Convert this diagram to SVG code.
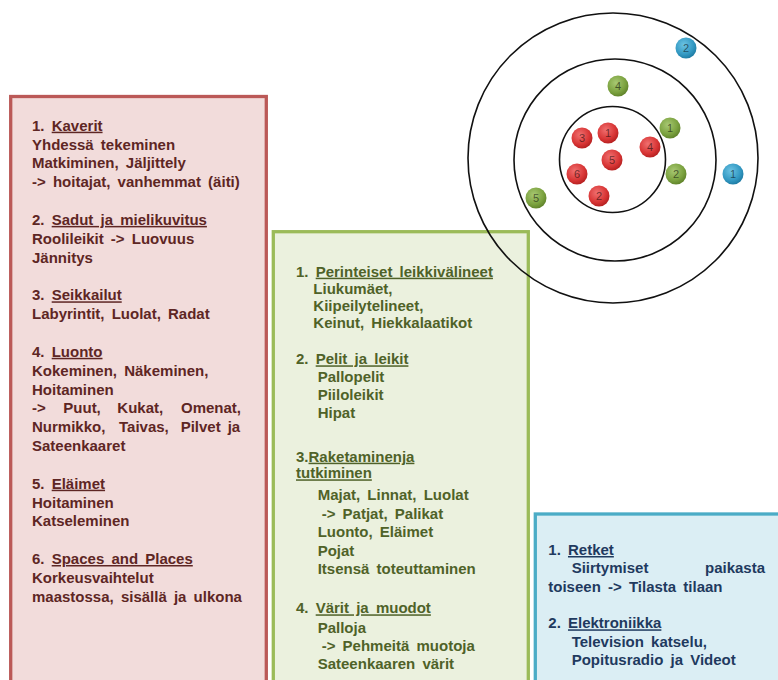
<svg xmlns="http://www.w3.org/2000/svg" width="778" height="680" viewBox="0 0 778 680">
<defs>
<radialGradient id="gRed" cx="0.4" cy="0.35" r="0.65">
<stop offset="0" stop-color="#f07070"/><stop offset="0.7" stop-color="#d83535"/><stop offset="1" stop-color="#b82222"/>
</radialGradient>
<radialGradient id="gGreen" cx="0.4" cy="0.35" r="0.65">
<stop offset="0" stop-color="#a8c873"/><stop offset="0.7" stop-color="#7ba23f"/><stop offset="1" stop-color="#62852c"/>
</radialGradient>
<radialGradient id="gBlue" cx="0.4" cy="0.35" r="0.65">
<stop offset="0" stop-color="#6cc3e3"/><stop offset="0.7" stop-color="#3399c3"/><stop offset="1" stop-color="#207ea6"/>
</radialGradient>
</defs>
<style>
text{font-family:"Liberation Sans",Arial,sans-serif;font-weight:bold;font-size:15px;word-spacing:3px}
.r{fill:#5e2624}
.g{fill:#4f6228}
.b{fill:#1f3a5f}
.u{text-decoration:underline}
.ring{fill:none;stroke:#111;stroke-width:1.6}
.n{font-size:11px;font-weight:normal;text-anchor:middle;fill:#000;fill-opacity:0.55;word-spacing:0}
</style>
<rect width="778" height="680" fill="#ffffff"/>

<g id="box-red">
<rect x="10.7" y="96.5" width="255.6" height="620" fill="#f2dcdb" stroke="#bb5957" stroke-width="3.3"/>
<text class="r" x="32" y="130.7">1. <tspan class="u">Kaverit</tspan></text>
<text class="r" x="32" y="149.5">Yhdessä tekeminen</text>
<text class="r" x="32" y="168.4">Matkiminen, Jäljittely</text>
<text class="r" x="32" y="187.2">-&gt; hoitajat, vanhemmat (äiti)</text>
<text class="r" x="32" y="224.9">2. <tspan class="u">Sadut ja mielikuvitus</tspan></text>
<text class="r" x="32" y="243.7">Roolileikit -&gt; Luovuus</text>
<text class="r" x="32" y="262.6">Jännitys</text>
<text class="r" x="32" y="300.3">3. <tspan class="u">Seikkailut</tspan></text>
<text class="r" x="32" y="319.1">Labyrintit, Luolat, Radat</text>
<text class="r" x="32" y="356.8">4. <tspan class="u">Luonto</tspan></text>
<text class="r" x="32" y="375.6">Kokeminen, Näkeminen,</text>
<text class="r" x="32" y="394.5">Hoitaminen</text>
<text class="r" y="413.3"><tspan x="32">-&gt;</tspan><tspan x="63.3">Puut,</tspan><tspan x="117.3">Kukat,</tspan><tspan x="181">Omenat,</tspan></text>
<text class="r" y="432.2"><tspan x="32">Nurmikko,</tspan><tspan x="119">Taivas,</tspan><tspan x="180.7">Pilvet</tspan><tspan x="227.7">ja</tspan></text>
<text class="r" x="32" y="451">Sateenkaaret</text>
<text class="r" x="32" y="488.7">5. <tspan class="u">Eläimet</tspan></text>
<text class="r" x="32" y="507.5">Hoitaminen</text>
<text class="r" x="32" y="526.3">Katseleminen</text>
<text class="r" x="32" y="564">6. <tspan class="u">Spaces and Places</tspan></text>
<text class="r" x="32" y="582.9">Korkeusvaihtelut</text>
<text class="r" x="32" y="601.7">maastossa, sisällä ja ulkona</text>
</g>

<g id="box-green">
<rect x="273.3" y="231.7" width="255" height="480" fill="#ebf1de" stroke="#9bbb59" stroke-width="3.3"/>
<text class="g" x="296" y="276.7">1. <tspan class="u">Perinteiset leikkivälineet</tspan></text>
<text class="g" x="313.3" y="293.9">Liukumäet,</text>
<text class="g" x="313.3" y="311.1">Kiipeilytelineet,</text>
<text class="g" x="313.3" y="328.3">Keinut, Hiekkalaatikot</text>
<text class="g" x="296" y="364.3">2. <tspan class="u">Pelit ja leikit</tspan></text>
<text class="g" x="317.7" y="381.7">Pallopelit</text>
<text class="g" x="317.7" y="400">Piiloleikit</text>
<text class="g" x="317.7" y="417.7">Hipat</text>
<text class="g" x="296" y="461.7">3.<tspan class="u">Raketaminenja</tspan></text>
<text class="g" x="296" y="478.3"><tspan class="u">tutkiminen</tspan></text>
<text class="g" x="317.7" y="500">Majat, Linnat, Luolat</text>
<text class="g" x="321.7" y="519">-&gt; Patjat, Palikat</text>
<text class="g" x="317.7" y="537.3">Luonto, Eläimet</text>
<text class="g" x="317.7" y="556">Pojat</text>
<text class="g" x="317.7" y="574">Itsensä toteuttaminen</text>
<text class="g" x="296" y="613.3">4. <tspan class="u">Värit ja muodot</tspan></text>
<text class="g" x="317.7" y="632.7">Palloja</text>
<text class="g" x="321.7" y="650.7">-&gt; Pehmeitä muotoja</text>
<text class="g" x="317.7" y="669.3">Sateenkaaren värit</text>
</g>

<g id="box-blue">
<rect x="535.3" y="514" width="260" height="200" fill="#dbeef4" stroke="#4bacc6" stroke-width="3.3"/>
<text class="b" x="548.3" y="555">1. <tspan class="u">Retket</tspan></text>
<text class="b" y="573.3"><tspan x="571.7">Siirtymiset</tspan><tspan x="705">paikasta</tspan></text>
<text class="b" x="548.3" y="591.7">toiseen -&gt; Tilasta tilaan</text>
<text class="b" x="548.3" y="628.3">2. <tspan class="u">Elektroniikka</tspan></text>
<text class="b" x="571.7" y="646.7">Television katselu,</text>
<text class="b" x="571.7" y="665">Popitusradio ja Videot</text>
</g>

<g id="target">
<circle class="ring" cx="613" cy="158" r="145"/>
<circle class="ring" cx="615" cy="160" r="101"/>
<circle class="ring" cx="612.5" cy="159.5" r="53"/>
</g>

<g id="balls">
<g id="ball-blue-2"><circle cx="686" cy="48" r="10.5" fill="url(#gBlue)"/><text class="n" x="686" y="52">2</text></g>
<g id="ball-green-4"><circle cx="618" cy="86" r="10.5" fill="url(#gGreen)"/><text class="n" x="618" y="90">4</text></g>
<g id="ball-red-1"><circle cx="608" cy="133" r="10.5" fill="url(#gRed)"/><text class="n" x="608" y="137">1</text></g>
<g id="ball-red-3"><circle cx="582" cy="138" r="10.5" fill="url(#gRed)"/><text class="n" x="582" y="142">3</text></g>
<g id="ball-green-1"><circle cx="670" cy="128" r="10.5" fill="url(#gGreen)"/><text class="n" x="670" y="132">1</text></g>
<g id="ball-red-4"><circle cx="650" cy="147" r="10.5" fill="url(#gRed)"/><text class="n" x="650" y="151">4</text></g>
<g id="ball-red-5"><circle cx="612" cy="160" r="10.5" fill="url(#gRed)"/><text class="n" x="612" y="164">5</text></g>
<g id="ball-red-6"><circle cx="577" cy="174" r="10.5" fill="url(#gRed)"/><text class="n" x="577" y="178">6</text></g>
<g id="ball-green-2"><circle cx="676" cy="174" r="10.5" fill="url(#gGreen)"/><text class="n" x="676" y="178">2</text></g>
<g id="ball-blue-1"><circle cx="733" cy="174" r="10.5" fill="url(#gBlue)"/><text class="n" x="733" y="178">1</text></g>
<g id="ball-red-2"><circle cx="599" cy="196" r="10.5" fill="url(#gRed)"/><text class="n" x="599" y="200">2</text></g>
<g id="ball-green-5"><circle cx="536" cy="198" r="10.5" fill="url(#gGreen)"/><text class="n" x="536" y="202">5</text></g>
</g>
</svg>
